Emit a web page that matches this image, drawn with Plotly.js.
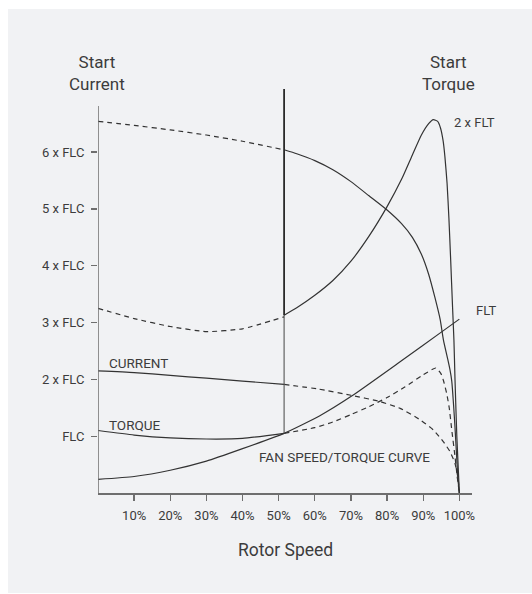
<!DOCTYPE html>
<html>
<head>
<meta charset="utf-8">
<script src="https://cdn.plot.ly/plotly-3.0.1.min.js"></script>
<style>
  html, body { margin: 0; padding: 0; background: #ffffff; }
  #chart { position: absolute; left: 8px; top: 9px; width: 524px; height: 584px; }
</style>
</head>
<body>
<div id="chart"></div>
<script>
// ---- Data (x = rotor speed %, y = multiples of full-load current / torque) ----
const motorCurrentDashX = [0, 10, 20, 30, 40, 51.5];
const motorCurrentDashY = [6.54, 6.47, 6.39, 6.30, 6.19, 6.04];
const motorCurrentX = [51.5, 55, 60, 65, 70, 75, 80, 84, 87, 89.5, 91.5, 93.2, 94.7, 95.6, 96.8, 97.4, 97.9, 98.4, 98.8, 99.2, 99.6, 100];
const motorCurrentY = [6.04, 5.97, 5.85, 5.69, 5.48, 5.23, 4.98, 4.74, 4.50, 4.20, 3.85, 3.45, 3.05, 2.69, 2.35, 2.17, 1.97, 1.55, 1.15, 0.70, 0.25, 0];

const motorTorqueDashX = [0, 10, 20, 30, 40, 51.5];
const motorTorqueDashY = [3.25, 3.07, 2.93, 2.84, 2.89, 3.10];
const motorTorqueX = [51.5, 55, 60, 65, 70, 75, 80, 84, 87, 89.5, 91.5, 92.8, 94, 94.8, 95.5, 96, 96.6, 97.1, 97.6, 98.1, 98.5, 98.8, 99.3, 100];
const motorTorqueY = [3.13, 3.26, 3.48, 3.74, 4.08, 4.52, 5.04, 5.52, 5.95, 6.30, 6.50, 6.57, 6.54, 6.42, 6.20, 5.92, 5.45, 4.85, 4.10, 3.30, 2.69, 1.99, 1.00, 0];

const softCurrentX = [0, 10, 20, 30, 40, 51.5];
const softCurrentY = [2.15, 2.12, 2.07, 2.02, 1.97, 1.91];
const softCurrentDashX = [51.5, 61, 70, 78, 83.6, 89.1, 92.8, 95.6, 97.4, 98.8, 99.7, 100];
const softCurrentDashY = [1.91, 1.83, 1.72, 1.61, 1.49, 1.29, 1.11, 0.90, 0.73, 0.52, 0.23, 0];

const softTorqueX = [0, 10, 20, 30, 40, 51.5];
const softTorqueY = [1.10, 1.02, 0.97, 0.95, 0.96, 1.05];
const softTorqueDashX = [51.5, 60, 65, 70, 75, 80, 85, 90, 93.5, 94.9, 95.6, 96.5, 97.2, 97.9, 98.8, 99.4, 100];
const softTorqueDashY = [1.05, 1.15, 1.25, 1.38, 1.52, 1.68, 1.87, 2.08, 2.20, 2.10, 1.98, 1.75, 1.50, 1.11, 0.64, 0.29, 0];

const fanX = [0, 10, 20, 30, 40, 51.5, 61.4, 70.3, 83.4, 95.2, 100];
const fanY = [0.24, 0.29, 0.40, 0.56, 0.78, 1.05, 1.36, 1.71, 2.30, 2.84, 3.06];

const markerSpeed = [51.5, 51.5];
const markerLower = [1.05, 3.13];
const markerUpper = [3.13, 7.11];

const xTickVals = [10, 20, 30, 40, 50, 60, 70, 80, 90, 100];
const xTickText = ["10%", "20%", "30%", "40%", "50%", "60%", "70%", "80%", "90%", "100%"];
const yTickVals = [1, 2, 3, 4, 5, 6];
const yTickText = ["FLC", "2 x FLC", "3 x FLC", "4 x FLC", "5 x FLC", "6 x FLC"];

// ---- Styles ----
const ink = "#333333";
const axisCol = "#6e6e6e";
const textCol = "#3c3c3c";
const FONT = "Roboto, 'DejaVu Sans', sans-serif";
const solid = {color: ink, width: 1.2, shape: "spline", smoothing: 0.5};
const dashed = {color: ink, width: 1.2, dash: "5px,4px", shape: "spline", smoothing: 0.5};

function tr(x, y, line) {
  return {x: x, y: y, type: "scatter", mode: "lines", line: line, hoverinfo: "skip", showlegend: false};
}

const traces = [
  tr(motorCurrentDashX, motorCurrentDashY, dashed),
  tr(motorCurrentX, motorCurrentY, solid),
  tr(motorTorqueDashX, motorTorqueDashY, dashed),
  tr(motorTorqueX, motorTorqueY, solid),
  tr(softCurrentX, softCurrentY, solid),
  tr(softCurrentDashX, softCurrentDashY, dashed),
  tr(softTorqueX, softTorqueY, solid),
  tr(softTorqueDashX, softTorqueDashY, dashed),
  tr(fanX, fanY, solid),
  tr(markerSpeed, markerLower, {color: "#555555", width: 1.1}),
  tr(markerSpeed, markerUpper, {color: "#2a2a2a", width: 1.8})
];

function ann(text, x, y, xanchor, size, refs) {
  return Object.assign({
    text: text, x: x, y: y, xanchor: xanchor, yanchor: "middle", showarrow: false,
    font: {family: FONT, size: size, color: textCol}
  }, refs || {xref: "x", yref: "y"});
}
const P = {xref: "paper", yref: "paper"};

const layout = {
  width: 524, height: 584,
  margin: {l: 90, r: 60, t: 80, b: 100},
  paper_bgcolor: "#f1f2f4",
  plot_bgcolor: "rgba(0,0,0,0)",
  font: {family: FONT, color: textCol, size: 12},
  xaxis: {
    range: [0, 103.5], showgrid: false, zeroline: false,
    showline: true, linecolor: axisCol, linewidth: 1.5,
    ticks: "outside", ticklen: 6, tickwidth: 1.3, tickcolor: axisCol,
    tickvals: xTickVals, ticktext: xTickText, ticklabelstandoff: 4,
    tickfont: {family: FONT, size: 13, color: textCol}
  },
  yaxis: {
    range: [0, 7.11], showgrid: false, zeroline: false, showline: false,
    ticks: "outside", ticklen: 6, tickwidth: 1.3, tickcolor: axisCol,
    tickvals: yTickVals, ticktext: yTickText, ticklabelstandoff: 4,
    tickfont: {family: FONT, size: 13, color: textCol}
  },
  shapes: [
    {type: "line", xref: "x", yref: "y", x0: 0, x1: 0, y0: 0, y1: 6.81,
     line: {color: axisCol, width: 1.5}, layer: "above"}
  ],
  annotations: [
    ann("Start<br>Current", -0.003, 1.04, "center", 17, P),
    ann("Start<br>Torque", 0.9385, 1.04, "center", 17, P),
    ann("Rotor Speed", 0.5, -0.141, "center", 17.5, P),
    ann("2 x FLT", 1.008, 0.916, "center", 13, P),
    ann("FLT", 1.037, 0.451, "center", 13, P),
    ann("CURRENT", 2.4, 2.29, "left", 13.5),
    ann("TORQUE", 2.4, 1.20, "left", 13.5),
    ann("FAN SPEED/TORQUE CURVE", 68.1, 0.64, "center", 13.5)
  ]
};

Plotly.newPlot("chart", traces, layout, {displayModeBar: false, staticPlot: true});
</script>
</body>
</html>
